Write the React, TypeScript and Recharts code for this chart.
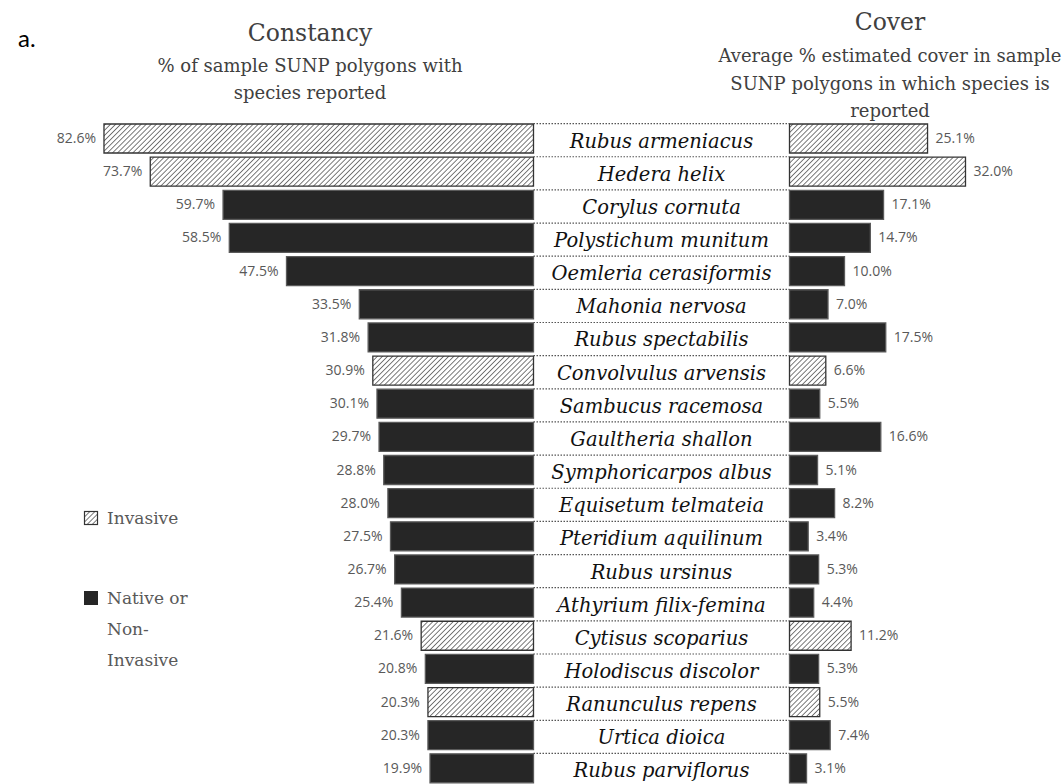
import { Bar, BarChart, Cell, LabelList, XAxis, YAxis } from "recharts";

const species = [
  "Rubus armeniacus",
  "Hedera helix",
  "Corylus cornuta",
  "Polystichum munitum",
  "Oemleria cerasiformis",
  "Mahonia nervosa",
  "Rubus spectabilis",
  "Convolvulus arvensis",
  "Sambucus racemosa",
  "Gaultheria shallon",
  "Symphoricarpos albus",
  "Equisetum telmateia",
  "Pteridium aquilinum",
  "Rubus ursinus",
  "Athyrium filix-femina",
  "Cytisus scoparius",
  "Holodiscus discolor",
  "Ranunculus repens",
  "Urtica dioica",
  "Rubus parviflorus",
];

// % of sample polygons with species reported
const constancy = [82.6, 73.7, 59.7, 58.5, 47.5, 33.5, 31.8, 30.9, 30.1, 29.7, 28.8, 28.0, 27.5, 26.7, 25.4, 21.6, 20.8, 20.3, 20.3, 19.9];

// average % cover where reported
const cover = [25.1, 32.0, 17.1, 14.7, 10.0, 7.0, 17.5, 6.6, 5.5, 16.6, 5.1, 8.2, 3.4, 5.3, 4.4, 11.2, 5.3, 5.5, 7.4, 3.1];

const invasive = [true, true, false, false, false, false, false, true, false, false, false, false, false, false, false, true, false, true, false, false];

const data = species.map((name, i) => ({
  species: name,
  constancy: constancy[i],
  cover: cover[i],
  invasive: invasive[i],
}));

const W = 1064;
const H = 800;
const TOP = 122;
const BOTTOM = 15;
const BAR_H = 29;
const LABEL_W = 256;

const serif = "'DejaVu Serif', serif";
const sans = "'Open Sans', sans-serif";

const hatchFill = "url(#hatch)";
const solidFill = "#262626";

function SpeciesTick(props: any) {
  const { x, y, payload } = props;
  return (
    <g>
      <line
        x1={x}
        x2={x + LABEL_W}
        y1={y - BAR_H / 2 - 0.5}
        y2={y - BAR_H / 2 - 0.5}
        stroke="#555"
        strokeWidth={1.2}
        strokeDasharray="1.5 1.5"
      />
      <text
        x={x + LABEL_W / 2}
        y={y}
        dy={9}
        textAnchor="middle"
        fontFamily={serif}
        fontStyle="italic"
        fontSize={19.5}
        fill="#111"
      >
        {payload.value}
      </text>
    </g>
  );
}

function LeftValue(props: any) {
  const vb = props.viewBox || {};
  const x = props.x ?? vb.x;
  const y = props.y ?? vb.y;
  const width = props.width ?? vb.width;
  const height = props.height ?? vb.height;
  const left = Math.min(x, x + width);
  return (
    <text x={left - 8} y={y + height / 2 - 1} textAnchor="end" dominantBaseline="central" fontFamily={sans} fontSize={14} fill="#595959">
      {Number(props.value).toFixed(1)}%
    </text>
  );
}

function RightValue(props: any) {
  const vb = props.viewBox || {};
  const x = props.x ?? vb.x;
  const y = props.y ?? vb.y;
  const width = props.width ?? vb.width;
  const height = props.height ?? vb.height;
  const right = Math.max(x, x + width);
  return (
    <text x={right + 8} y={y + height / 2 - 1} textAnchor="start" dominantBaseline="central" fontFamily={sans} fontSize={14} fill="#595959">
      {Number(props.value).toFixed(1)}%
    </text>
  );
}

function Overlay() {
  return (
    <svg width={W} height={784} style={{ position: "absolute", left: 0, top: 0 }}>
      <defs>
        <pattern id="hatch" patternUnits="userSpaceOnUse" width={3.6} height={3.6} patternTransform="rotate(45)">
          <rect width={3.6} height={3.6} fill="#fff" />
          <line x1={0} y1={0} x2={0} y2={3.6} stroke="#333" strokeWidth={1.3} />
        </pattern>
      </defs>
      <text x={18} y={47} fontFamily="Lato, sans-serif" fontSize={24} fill="#000">a.</text>

      <g fontFamily={serif} fill="#404040" textAnchor="middle">
        <text x={310} y={41} fontSize={23.5}>Constancy</text>
        <text x={310} y={72} fontSize={18}>% of sample SUNP polygons with</text>
        <text x={310} y={99} fontSize={18}>species reported</text>

        <text x={890} y={30} fontSize={23.5}>Cover</text>
        <text x={890} y={62} fontSize={18}>Average % estimated cover in sample</text>
        <text x={890} y={90} fontSize={18}>SUNP polygons in which species is</text>
        <text x={890} y={117} fontSize={18}>reported</text>
      </g>

      <rect x={84.5} y={511.5} width={13} height={13} fill={hatchFill} stroke="#333" strokeWidth={1.2} />
      <rect x={84} y={591} width={14} height={14} fill={solidFill} />
      <g fontFamily={serif} fontSize={17} fill="#595959">
        <text x={107} y={524}>Invasive</text>
        <text x={107} y={604}>Native or</text>
        <text x={107} y={635}>Non-</text>
        <text x={107} y={666}>Invasive</text>
      </g>
    </svg>
  );
}

export default function App() {
  return (
    <div style={{ position: "absolute", left: 0, top: 0, width: W, height: 784, overflow: "hidden", background: "#fff" }}>
      <Overlay />
      <div style={{ position: "absolute", left: 0, top: 0 }}>
        <BarChart
          width={W}
          height={H}
          data={data}
          layout="vertical"
          barSize={BAR_H}
          margin={{ top: TOP, bottom: BOTTOM, left: 13.5, right: W - 533.5 - LABEL_W }}
        >
          <XAxis type="number" domain={[0, 100]} reversed hide />
          <YAxis
            type="category"
            dataKey="species"
            orientation="right"
            width={LABEL_W}
            axisLine={false}
            tickLine={false}
            tickSize={0}
            tickMargin={0}
            interval={0}
            tick={<SpeciesTick />}
          />
          <Bar dataKey="constancy" isAnimationActive={false}>
            {data.map((d, i) => (
              <Cell key={i} fill={d.invasive ? hatchFill : solidFill} stroke={d.invasive ? "#333" : "#5a5a5a"} strokeWidth={1.3} />
            ))}
            <LabelList dataKey="constancy" content={<LeftValue />} />
          </Bar>
        </BarChart>
      </div>
      <div style={{ position: "absolute", left: 0, top: 0 }}>
        <BarChart
          width={W}
          height={H}
          data={data}
          layout="vertical"
          barSize={BAR_H}
          margin={{ top: TOP, bottom: BOTTOM, left: 789.5, right: W - 789.5 - 220 }}
        >
          <XAxis type="number" domain={[0, 40]} hide />
          <YAxis type="category" dataKey="species" hide />
          <Bar dataKey="cover" isAnimationActive={false}>
            {data.map((d, i) => (
              <Cell key={i} fill={d.invasive ? hatchFill : solidFill} stroke={d.invasive ? "#333" : "#5a5a5a"} strokeWidth={1.3} />
            ))}
            <LabelList dataKey="cover" content={<RightValue />} />
          </Bar>
        </BarChart>
      </div>
    </div>
  );
}
